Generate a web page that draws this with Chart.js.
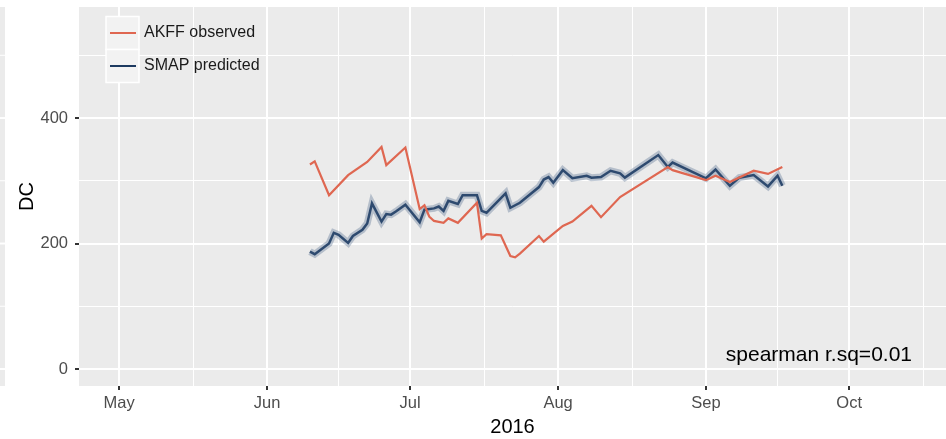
<!DOCTYPE html>
<html>
<head>
<meta charset="utf-8">
<script src="https://cdn.jsdelivr.net/npm/chart.js@4.4.1/dist/chart.umd.min.js"></script>
<style>
  html, body { margin: 0; padding: 0; background: #fff; }
  #wrap { width: 946px; height: 439px; }
</style>
</head>
<body>
<div id="wrap"><canvas id="dcChart" width="946" height="439"></canvas></div>
<script>
// AKFF observed drought code
const akffDates = ['2016-06-10', '2016-06-11', '2016-06-14', '2016-06-18', '2016-06-22', '2016-06-25', '2016-06-26', '2016-06-30',
    '2016-07-03', '2016-07-04', '2016-07-05', '2016-07-06', '2016-07-08', '2016-07-09', '2016-07-11', '2016-07-15',
    '2016-07-16', '2016-07-17', '2016-07-20', '2016-07-22', '2016-07-23', '2016-07-24', '2016-07-28', '2016-07-29',
    '2016-08-02', '2016-08-04', '2016-08-08', '2016-08-10', '2016-08-14', '2016-08-24', '2016-08-25',
    '2016-09-01', '2016-09-03', '2016-09-06', '2016-09-11', '2016-09-14', '2016-09-17'];
const akffDC = [326, 331, 277, 309, 330, 354, 325, 353,
    255, 261, 243, 236, 233, 240, 233, 265,
    208, 215, 213, 180, 178, 184, 212, 203,
    228, 235, 260, 242, 274, 322, 317,
    301, 308, 298, 316, 311, 322];

// SMAP predicted drought code
const smapDates = ['2016-06-10', '2016-06-11', '2016-06-14', '2016-06-15', '2016-06-16', '2016-06-18', '2016-06-19', '2016-06-21',
    '2016-06-22', '2016-06-23', '2016-06-25', '2016-06-26', '2016-06-27', '2016-06-28', '2016-06-30',
    '2016-07-03', '2016-07-04', '2016-07-06', '2016-07-07', '2016-07-08', '2016-07-09', '2016-07-11', '2016-07-12',
    '2016-07-15', '2016-07-16', '2016-07-17', '2016-07-21', '2016-07-22', '2016-07-24', '2016-07-28', '2016-07-29',
    '2016-07-30', '2016-07-31', '2016-08-02', '2016-08-04', '2016-08-07', '2016-08-08', '2016-08-10', '2016-08-12',
    '2016-08-14', '2016-08-15', '2016-08-22', '2016-08-24', '2016-08-25',
    '2016-09-01', '2016-09-03', '2016-09-06', '2016-09-08', '2016-09-11', '2016-09-14', '2016-09-16', '2016-09-17'];
const smapDC = [187, 183, 200, 217, 214, 201, 212, 222,
    232, 264, 235, 247, 246, 251, 262,
    234, 254, 256, 259, 252, 268, 263, 277,
    277, 252, 249, 280, 257, 265, 290, 302,
    306, 297, 317, 304, 308, 305, 306, 316,
    312, 305, 341, 322, 329,
    304, 318, 292, 305, 309, 291, 308, 292];

// axis ticks
const monthLabels = ['May', 'Jun', 'Jul', 'Aug', 'Sep', 'Oct'];
const monthStarts = ['2016-05-01', '2016-06-01', '2016-07-01', '2016-08-01', '2016-09-01', '2016-10-01', '2016-11-01'];
const yMajor = [0, 200, 400];
const yMinor = [100, 300, 500];

const seriesNames = ['AKFF observed', 'SMAP predicted'];
const note = 'spearman r.sq=0.01';

const FONT = "'Liberation Sans', Arial, sans-serif";
const RED = '#DF6751';
const NAVY = '#1D3A60';
const PANEL = '#EBEBEB';

// days since 1 May 2016
const origin = Date.parse('2016-05-01');
const toDay = d => (Date.parse(d) - origin) / 86400000;

const xMajor = monthStarts.slice(0, 6).map(toDay);
const xMinor = [];
for (let i = 0; i < monthStarts.length - 1; i++) {
    xMinor.push((toDay(monthStarts[i]) + toDay(monthStarts[i + 1])) / 2);
}

const akffPoints = akffDates.map((d, i) => ({ x: toDay(d), y: akffDC[i] }));
const smapPoints = smapDates.map((d, i) => ({ x: toDay(d), y: smapDC[i] }));

const isMajorX = v => xMajor.some(m => Math.abs(m - v) < 1e-6);
const isMajorY = v => yMajor.includes(v);

// gray panel, left neighbour strip, legend and annotation
const ggPanel = {
    id: 'ggPanel',
    beforeDraw(chart) {
        const { ctx, chartArea: a } = chart;
        ctx.save();
        ctx.fillStyle = PANEL;
        ctx.fillRect(a.left, a.top, a.right - a.left, a.bottom - a.top);
        // edge of the neighbouring panel
        ctx.fillRect(0, a.top, 5, a.bottom - a.top);
        const ys = chart.scales.y;
        ctx.strokeStyle = '#fff';
        [...yMajor, ...yMinor].forEach(v => {
            ctx.lineWidth = isMajorY(v) ? 2 : 1;
            const py = ys.getPixelForValue(v);
            ctx.beginPath();
            ctx.moveTo(0, py);
            ctx.lineTo(5, py);
            ctx.stroke();
        });
        ctx.restore();
    },
    afterDraw(chart) {
        const { ctx } = chart;
        ctx.save();
        // legend keys
        const keyX = 106, keyW = 33, keyH = 33, keyY = 16.5;
        const colors = [RED, NAVY];
        seriesNames.forEach((name, i) => {
            const top = keyY + i * keyH;
            ctx.fillStyle = '#F2F2F2';
            ctx.fillRect(keyX, top, keyW, keyH);
            ctx.strokeStyle = '#fff';
            ctx.lineWidth = 1.5;
            ctx.strokeRect(keyX, top, keyW, keyH);
            const cy = top + keyH / 2;
            ctx.strokeStyle = colors[i];
            ctx.lineWidth = 2;
            ctx.beginPath();
            ctx.moveTo(keyX + 4, cy);
            ctx.lineTo(keyX + keyW - 3, cy);
            ctx.stroke();
            ctx.fillStyle = '#1a1a1a';
            ctx.font = `16px ${FONT}`;
            ctx.textBaseline = 'middle';
            ctx.textAlign = 'left';
            ctx.fillText(name, keyX + keyW + 5, cy);
        });
        // correlation note
        ctx.fillStyle = '#000';
        ctx.font = `21px ${FONT}`;
        ctx.textAlign = 'right';
        ctx.textBaseline = 'middle';
        ctx.fillText(note, 912, 355);
        ctx.restore();
    }
};

new Chart(document.getElementById('dcChart'), {
    type: 'line',
    data: {
        datasets: [
            {
                label: seriesNames[0],
                data: akffPoints,
                borderColor: RED,
                borderWidth: 2.2,
                pointRadius: 0,
                tension: 0
            },
            {
                // soft band behind the prediction line
                label: 'band',
                data: smapPoints,
                borderColor: 'rgba(80, 105, 140, 0.35)',
                borderWidth: 7,
                pointRadius: 0,
                tension: 0
            },
            {
                label: seriesNames[1],
                data: smapPoints,
                borderColor: NAVY,
                borderWidth: 2.5,
                pointRadius: 0,
                tension: 0
            }
        ]
    },
    options: {
        responsive: false,
        animation: false,
        events: [],
        layout: { padding: { top: 7, right: 0, left: 0, bottom: 0 } },
        plugins: {
            legend: { display: false },
            tooltip: { enabled: false }
        },
        scales: {
            x: {
                type: 'linear',
                min: -8.4,
                max: 173.3,
                afterBuildTicks: scale => {
                    scale.ticks = [...xMajor, ...xMinor].sort((p, q) => p - q).map(v => ({ value: v }));
                },
                afterFit: scale => {
                    scale.height = 53;
                    scale.paddingLeft = 0;
                    scale.paddingRight = 0;
                },
                ticks: {
                    autoSkip: false,
                    maxRotation: 0,
                    padding: 4,
                    color: '#4D4D4D',
                    font: { family: FONT, size: 16.5 },
                    callback: v => {
                        const i = xMajor.findIndex(m => Math.abs(m - v) < 1e-6);
                        return i >= 0 ? monthLabels[i] : '';
                    }
                },
                grid: {
                    color: '#fff',
                    lineWidth: c => (c.tick && isMajorX(c.tick.value) ? 2 : 1),
                    tickColor: c => (c.tick && isMajorX(c.tick.value) ? '#333' : 'rgba(0,0,0,0)'),
                    tickLength: 4,
                    tickWidth: 2
                },
                border: { display: false },
                title: {
                    display: true,
                    text: '2016',
                    color: '#000',
                    font: { family: FONT, size: 20 },
                    padding: { top: 0, bottom: 0 }
                }
            },
            y: {
                min: -27.1,
                max: 577,
                afterBuildTicks: scale => {
                    scale.ticks = [...yMajor, ...yMinor].sort((p, q) => p - q).map(v => ({ value: v }));
                },
                afterFit: scale => {
                    scale.width = 79;
                    scale.paddingTop = 0;
                    scale.paddingBottom = 0;
                },
                ticks: {
                    padding: 7,
                    color: '#4D4D4D',
                    font: { family: FONT, size: 16.5 },
                    callback: v => (isMajorY(v) ? String(v) : '')
                },
                grid: {
                    color: '#fff',
                    lineWidth: c => (c.tick && isMajorY(c.tick.value) ? 2 : 1),
                    tickColor: c => (c.tick && isMajorY(c.tick.value) ? '#333' : 'rgba(0,0,0,0)'),
                    tickLength: 4,
                    tickWidth: 2
                },
                border: { display: false },
                title: {
                    display: true,
                    text: 'DC',
                    color: '#000',
                    font: { family: FONT, size: 20 },
                    padding: { top: 15, bottom: 0 }
                }
            }
        }
    },
    plugins: [ggPanel]
});
</script>
</body>
</html>
